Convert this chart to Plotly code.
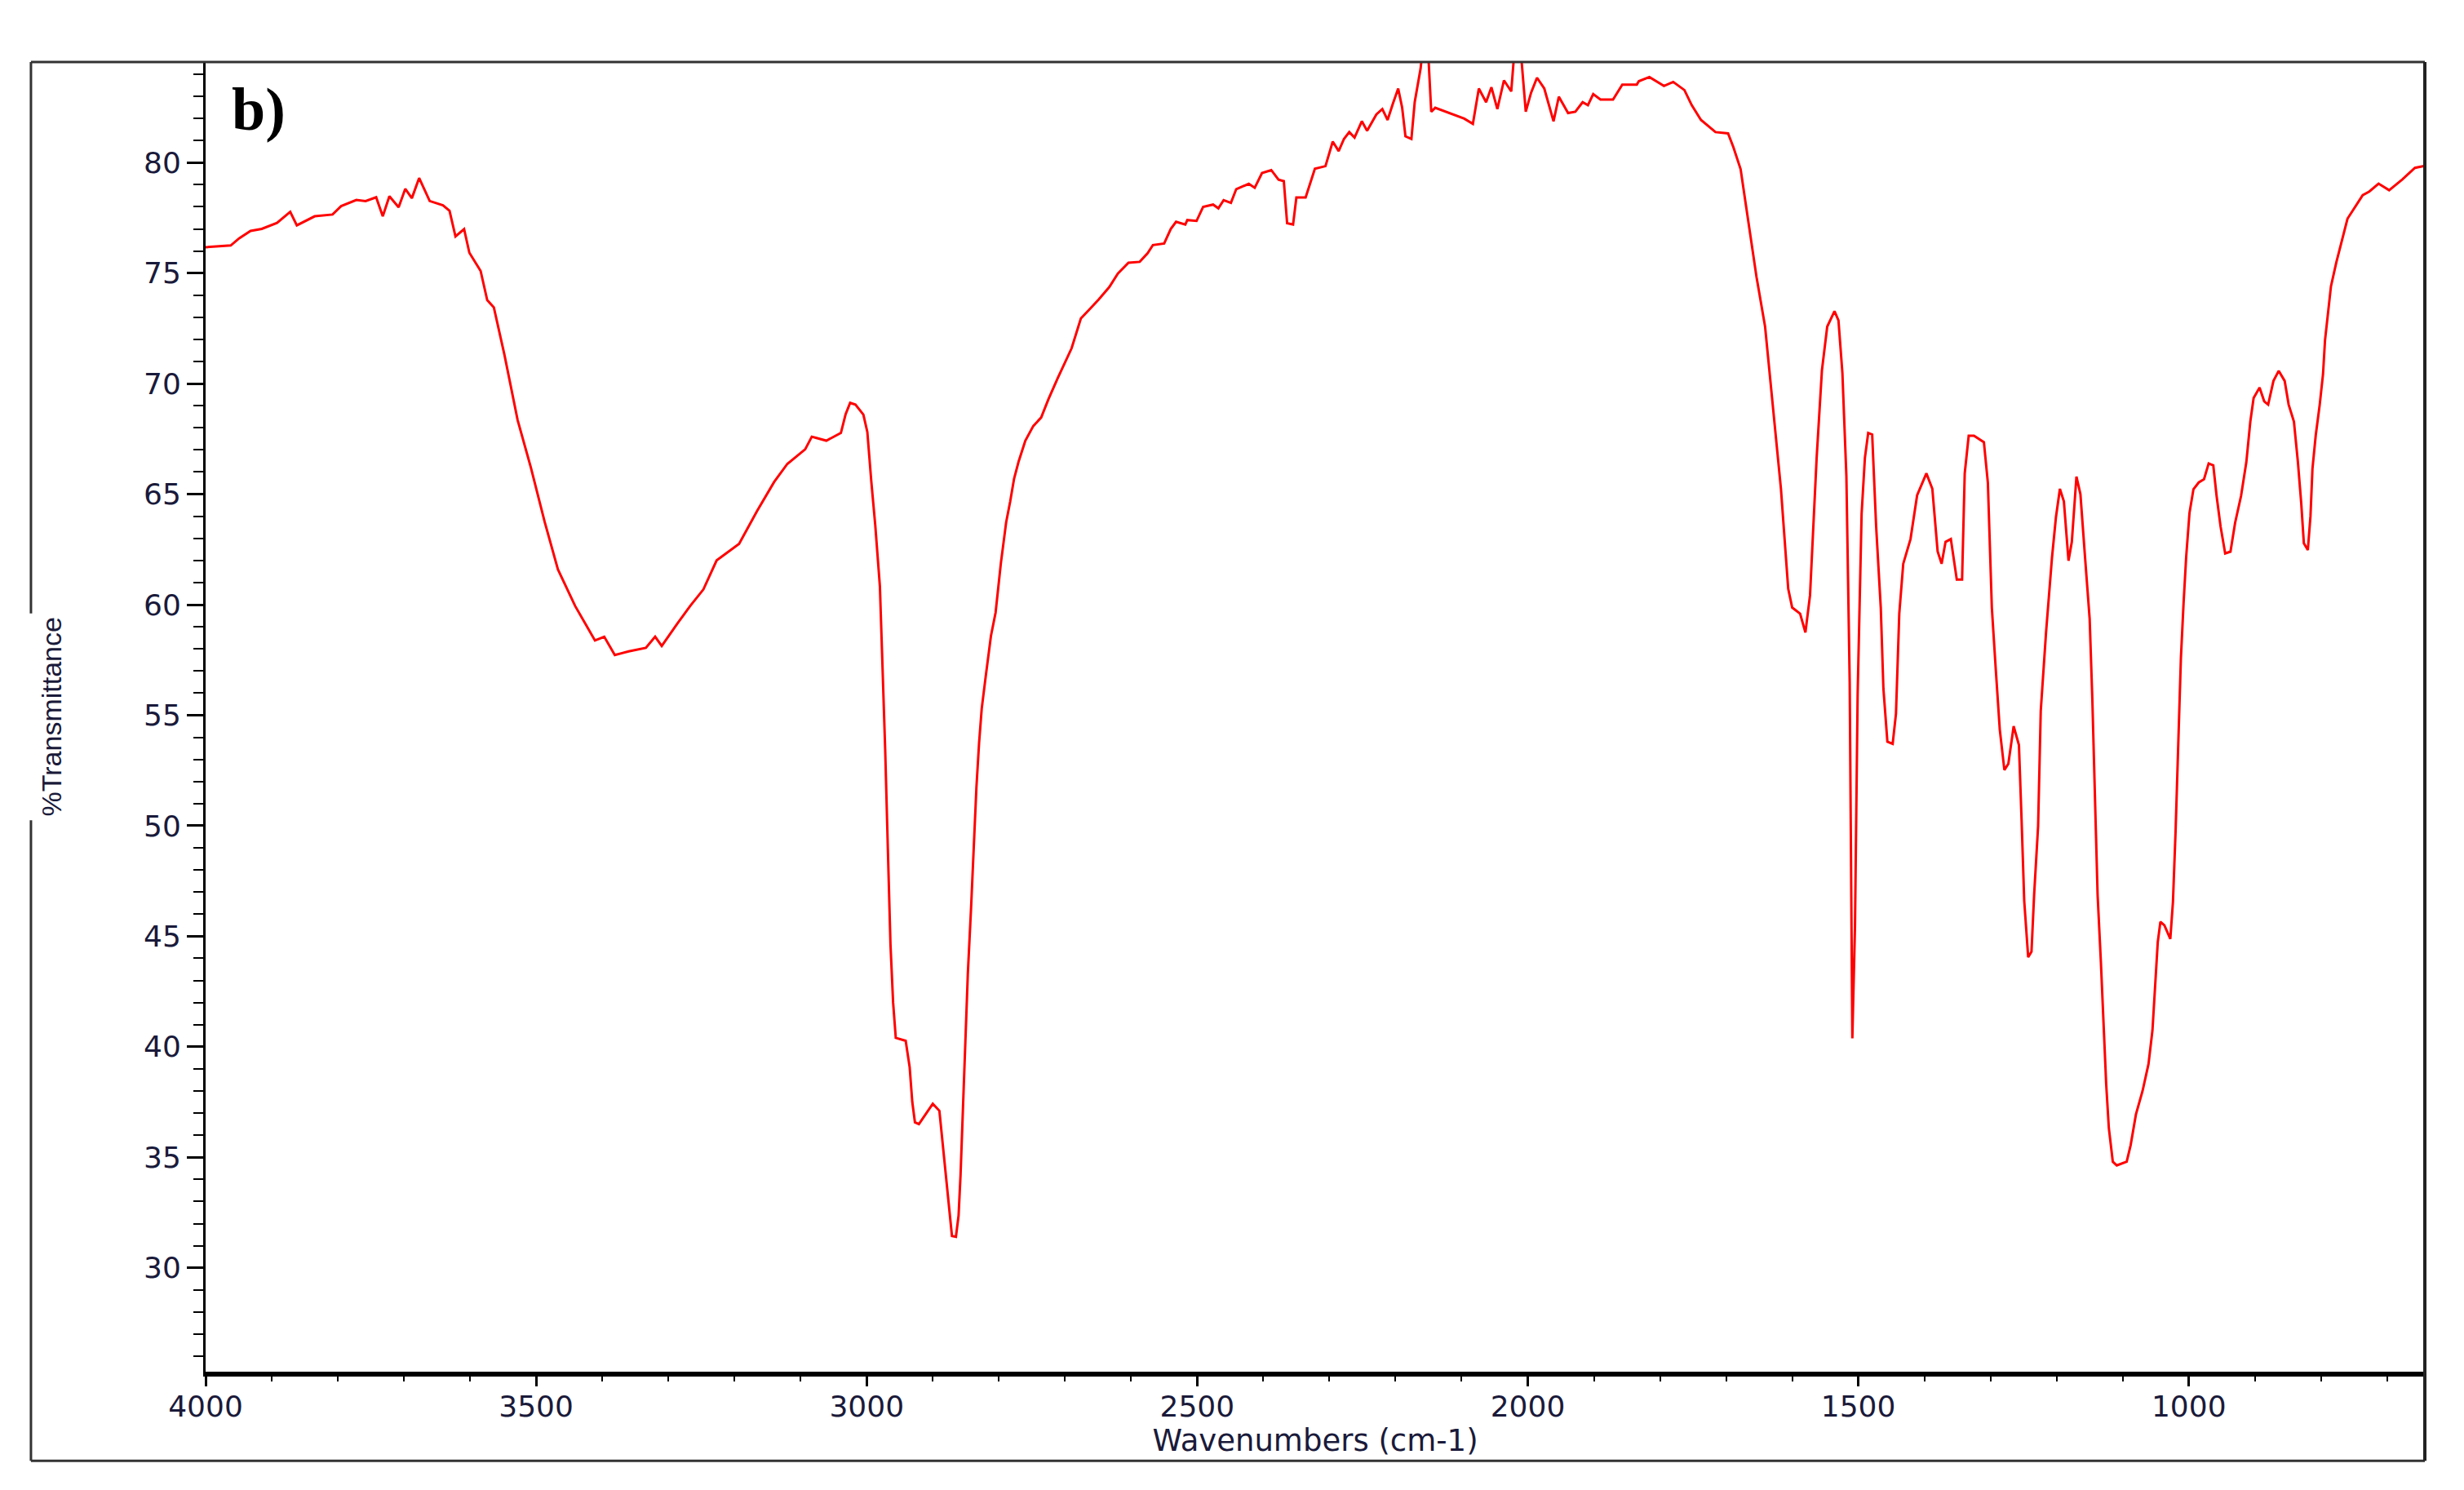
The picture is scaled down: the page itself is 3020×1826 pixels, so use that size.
import plotly.graph_objects as go

# FTIR spectrum b)
wavenumber = [
    4000, 3962, 3949, 3932, 3915, 3892, 3872, 3862, 3835, 3808, 3795, 3772, 3758, 3742, 3732, 3722,
    3708, 3698, 3688, 3677, 3661, 3641, 3631, 3622, 3609, 3601, 3584, 3574, 3564, 3548, 3528, 3508,
    3487, 3467, 3441, 3411, 3397, 3381, 3360, 3334, 3320, 3310, 3287, 3267, 3247, 3227, 3193, 3166,
    3140, 3120, 3093, 3083, 3077, 3061, 3039, 3032, 3025, 3017, 3005, 2999, 2993, 2987, 2980, 2976,
    2972, 2968, 2964, 2960, 2956, 2941, 2935, 2931, 2927, 2921, 2910, 2900, 2890, 2886, 2882, 2875,
    2871, 2865, 2861, 2858, 2855, 2851, 2847, 2842, 2838, 2834, 2830, 2826, 2820, 2816, 2812, 2805,
    2801, 2797, 2793, 2789, 2783, 2777, 2770, 2760, 2748, 2736, 2725, 2711, 2690, 2676, 2666, 2649,
    2633, 2620, 2604, 2587, 2575, 2567, 2550, 2540, 2532, 2518, 2515, 2501, 2491, 2476, 2468, 2460,
    2449, 2441, 2422, 2413, 2402, 2388, 2377, 2369, 2364, 2355, 2350, 2336, 2322, 2306, 2295, 2286,
    2278, 2270, 2262, 2251, 2243, 2229, 2220, 2212, 2204, 2196, 2190, 2185, 2176, 2171, 2162, 2158,
    2151, 2146, 2140, 2118, 2096, 2083, 2074, 2063, 2055, 2046, 2036, 2025, 2019, 2011, 2003, 1995,
    1986, 1975, 1961, 1953, 1939, 1928, 1917, 1909, 1901, 1890, 1871, 1857, 1835, 1832, 1816, 1794,
    1780, 1763, 1752, 1738, 1716, 1697, 1689, 1678, 1666, 1654, 1641, 1629, 1617, 1606, 1600, 1588,
    1580, 1573, 1569, 1563, 1555, 1547, 1536, 1530, 1524, 1518, 1513, 1509, 1505, 1501, 1495, 1490,
    1485, 1479, 1473, 1466, 1462, 1456, 1448, 1443, 1438, 1432, 1421, 1411, 1397, 1388, 1380, 1374,
    1368, 1360, 1351, 1343, 1339, 1333, 1325, 1310, 1304, 1298, 1292, 1286, 1279, 1273, 1265, 1257,
    1253, 1249, 1243, 1238, 1234, 1228, 1224, 1216, 1207, 1201, 1195, 1189, 1182, 1177, 1170, 1164,
    1157, 1150, 1146, 1142, 1138, 1133, 1129, 1125, 1121, 1115, 1109, 1094, 1088, 1080, 1070, 1061,
    1055, 1051, 1047, 1043, 1037, 1028, 1024, 1020, 1016, 1012, 1008, 1004, 999, 993, 985, 977,
    970, 963, 958, 952, 945, 937, 930, 921, 913, 907, 902, 893, 886, 880, 872, 864,
    855, 849, 841, 835, 830, 826, 820, 816, 813, 808, 802, 797, 794, 789, 785, 777,
    768, 760, 752, 737, 727, 713, 697, 677, 658, 643,
]
transmittance = [
    76.17, 76.25, 76.58, 76.91, 77.0, 77.27, 77.77, 77.16, 77.57, 77.65, 78.03, 78.31, 78.26, 78.43, 77.57, 78.48,
    77.98, 78.81, 78.39, 79.3, 78.26, 78.07, 77.82, 76.66, 76.99, 75.92, 75.1, 73.78, 73.45, 71.31, 68.35, 66.21,
    63.73, 61.59, 59.94, 58.38, 58.55, 57.72, 57.89, 58.05, 58.55, 58.13, 59.12, 59.94, 60.69, 62.0, 62.75, 64.23,
    65.55, 66.37, 67.03, 67.6, 67.55, 67.42, 67.77, 68.6, 69.13, 69.05, 68.6, 67.81, 65.57, 63.59, 60.83, 57.4,
    53.45, 48.97, 44.62, 41.99, 40.4, 40.27, 39.08, 37.5, 36.58, 36.5, 36.97, 37.42, 37.1, 35.92, 34.47, 32.62,
    31.44, 31.4, 32.36, 34.2, 36.7, 40.15, 43.3, 46.34, 49.37, 51.73, 53.73, 55.29, 56.74, 57.66, 58.59, 59.64,
    60.83, 61.88, 62.8, 63.73, 64.65, 65.7, 66.49, 67.42, 68.08, 68.47, 69.3, 70.25, 71.6, 72.95, 73.26, 73.81,
    74.37, 74.98, 75.47, 75.51, 75.9, 76.27, 76.34, 77.0, 77.32, 77.2, 77.4, 77.36, 78.0, 78.1, 77.93, 78.3,
    78.18, 78.8, 79.04, 78.86, 79.53, 79.66, 79.23, 79.16, 77.26, 77.2, 78.42, 78.42, 79.72, 79.84, 80.95, 80.52,
    81.07, 81.38, 81.13, 81.87, 81.44, 82.18, 82.42, 81.93, 82.67, 83.35, 82.48, 81.19, 81.07, 82.73, 84.27, 85.5,
    85.2, 82.3, 82.48, 82.24, 81.99, 81.75, 83.35, 82.73, 83.41, 82.42, 83.72, 83.22, 85.5, 85.2, 82.3, 83.16,
    83.84, 83.35, 81.87, 82.98, 82.24, 82.3, 82.73, 82.6, 83.1, 82.85, 82.85, 83.53, 83.53, 83.68, 83.87, 83.47,
    83.65, 83.28, 82.6, 81.93, 81.38, 81.32, 80.7, 79.7, 77.23, 74.83, 72.58, 68.9, 65.24, 60.72, 59.87, 59.59,
    58.74, 60.43, 62.97, 66.64, 70.6, 72.58, 73.28, 72.86, 70.46, 65.8, 56.48, 40.38, 45.46, 55.92, 64.1, 66.64,
    67.77, 67.7, 63.54, 59.87, 56.2, 53.8, 53.7, 55.07, 59.6, 61.85, 62.97, 64.95, 65.94, 65.24, 62.41, 61.85,
    62.84, 62.97, 61.14, 61.14, 65.94, 67.64, 67.64, 67.35, 65.52, 59.87, 57.05, 54.36, 52.52, 52.8, 54.5, 53.65,
    50.27, 46.6, 44.05, 44.3, 46.88, 49.98, 55.2, 58.74, 62.13, 63.96, 65.24, 64.67, 61.99, 62.84, 65.79, 65.0,
    62.15, 59.35, 55.74, 50.85, 46.87, 43.81, 41.07, 38.3, 36.32, 34.8, 34.63, 34.8, 35.55, 36.94, 38.0, 39.22,
    40.75, 42.59, 44.73, 45.65, 45.5, 44.88, 46.57, 49.79, 53.76, 57.58, 60.04, 62.17, 64.15, 65.22, 65.53, 65.68,
    66.39, 66.3, 64.92, 63.54, 62.32, 62.4, 63.7, 64.92, 66.45, 68.28, 69.35, 69.82, 69.2, 69.05, 70.12, 70.58,
    70.12, 69.05, 68.28, 66.45, 64.6, 62.78, 62.47, 64.0, 66.14, 67.67, 69.05, 70.43, 71.96, 73.33, 74.4, 75.47,
    76.55, 77.46, 77.83, 78.53, 78.69, 79.05, 78.75, 79.24, 79.76, 79.85,
]

x_ticks = [4000, 3500, 3000, 2500, 2000, 1500, 1000]
y_ticks = [30, 35, 40, 45, 50, 55, 60, 65, 70, 75, 80]

tick_font = dict(family="DejaVu Sans", size=36, color="#1a1a3a")

fig = go.Figure()
fig.add_trace(go.Scatter(x=wavenumber, y=transmittance, mode="lines",
                         line=dict(color="#ff0000", width=3), showlegend=False))

fig.update_xaxes(
    range=[4000, 643], tickvals=x_ticks, ticktext=[str(v) for v in x_ticks],
    showgrid=False, zeroline=False, showline=True, linecolor="black", linewidth=6,
    ticks="outside", ticklen=12, tickwidth=3, tickcolor="black", tickfont=tick_font,
    ticklabelstandoff=-6,
    minor=dict(dtick=100, tick0=0, ticks="outside", ticklen=6, tickwidth=2, tickcolor="black"),
    title=dict(text="Wavenumbers (cm-1)", font=dict(family="DejaVu Sans", size=37, color="#1a1a3a"),
               standoff=8),
)
fig.update_yaxes(
    range=[25.3, 84.55], tickvals=y_ticks, ticktext=[str(v) for v in y_ticks],
    showgrid=False, zeroline=False, showline=True, linecolor="black", linewidth=3,
    ticks="outside", ticklen=20, tickwidth=3, tickcolor="black", tickfont=tick_font,
    minor=dict(dtick=1, tick0=0, ticks="outside", ticklen=12, tickwidth=2, tickcolor="black"),
)

# outer frame, left side broken around the axis label
fx0, fy0 = -0.0787, -0.068
frame = dict(type="line", xref="paper", yref="paper", line=dict(color="#333333", width=3))
fig.add_shape(frame, x0=fx0, y0=1, x1=1, y1=1)
fig.add_shape(frame, x0=fx0, y0=fy0, x1=1, y1=fy0)
fig.add_shape(frame, x0=fx0, y0=fy0, x1=fx0, y1=0.421)
fig.add_shape(frame, x0=fx0, y0=0.579, x1=fx0, y1=1)
fig.add_shape(type="line", xref="paper", yref="paper", x0=1, y0=fy0, x1=1, y1=1,
              line=dict(color="#222222", width=4))

fig.add_annotation(x=-0.0695, y=0.5, xref="paper", yref="paper", text="%Transmittance",
                   textangle=-90, showarrow=False, xanchor="center", yanchor="middle",
                   font=dict(family="Liberation Sans", size=34, color="#1a1a3a"))
fig.add_annotation(x=0.011, y=0.964, xref="paper", yref="paper", text="<b>b)</b>",
                   showarrow=False, xanchor="left", yanchor="middle",
                   font=dict(family="Liberation Serif", size=74, color="black"))

# page body adds an 8px margin, so the figure is drawn 8px smaller and shifted
fig.update_layout(
    width=3004, height=1810,
    margin=dict(l=244, r=40, t=68, b=137),
    plot_bgcolor="white", paper_bgcolor="white",
)

fig.write_html("out.html")
